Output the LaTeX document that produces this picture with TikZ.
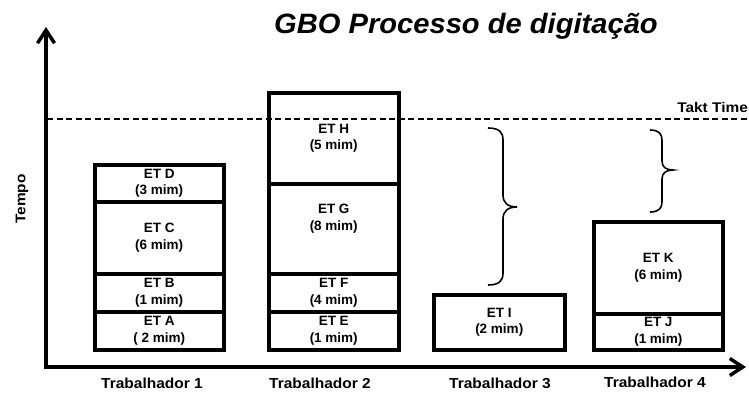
\documentclass[tikz,border=0pt]{standalone}
\usepackage{fontspec}
\setmainfont{Liberation Sans}
\newfontfamily\widefont{Liberation Sans}[FakeStretch=1.1]
\newfontfamily\workerfont{Liberation Sans}[FakeStretch=1.07]
\newfontfamily\titlefont{Liberation Sans}[FakeStretch=1.04]
\usetikzlibrary{arrows.meta}

\begin{document}
\begin{tikzpicture}[x=1pt,y=-1pt,
  etbox/.style={draw, line width=3.5pt, rectangle, anchor=north west, inner sep=0pt,
    align=center, font=\bfseries\fontsize{13.5}{16.5}\selectfont},
  etlabel/.style={align=center, inner sep=0pt, font=\bfseries\fontsize{13.5}{16.5}\selectfont},
  worker/.style={font=\workerfont\bfseries\fontsize{14.5}{16}\selectfont, inner sep=0pt},
  axis/.style={line width=3.5pt, line join=miter},
  taktline/.style={line width=2.3pt, dash pattern=on 6pt off 3.5pt},
  bracket/.style={line width=1.6pt},
]
\useasboundingbox (0,0) rectangle (749,392);

% title
\node[font=\titlefont\bfseries\itshape\fontsize{28}{32}\selectfont, inner sep=0pt, anchor=base] (title) at (466,33.5) {GBO Processo de digitação};

% axes
\coordinate (origin) at (46,367);
\coordinate (ytip) at (46,27);
\coordinate (xtip) at (746,367);
\draw[axis, {Straight Barb[length=13pt,width=17pt]}-{Straight Barb[length=13pt,width=17pt]}] (ytip) -- (origin) -- (xtip);
\node[rotate=90, font=\widefont\bfseries\fontsize{14}{16}\selectfont, inner sep=0pt] (tempo) at (22,199) {Tempo};

% takt time
\coordinate (taktL) at (47,119);
\coordinate (taktR) at (749,119);
\draw[taktline] (taktL) -- (taktR);
\node[anchor=base east, font=\widefont\bfseries\fontsize{14}{16}\selectfont, inner sep=0pt] (takt) at (748,112.5) {Takt Time};

% worker 1
\node[etbox, minimum width=129pt, minimum height=38pt] (etA) at (93,310) {ET A\\( 2 mim)};
\node[etbox, minimum width=129pt, minimum height=38pt] (etB) at (93,272) {ET B\\(1 mim)};
\node[etbox, minimum width=129pt, minimum height=72pt] (etC) at (93,200) {ET C\\(6 mim)};
\node[etbox, minimum width=129pt, minimum height=37pt] (etD) at (93,163) {ET D\\(3 mim)};

% worker 2
\node[etbox, minimum width=130pt, minimum height=38pt] (etE) at (267,310) {ET E\\(1 mim)};
\node[etbox, minimum width=130pt, minimum height=38pt] (etF) at (267,272) {ET F\\(4 mim)};
\node[etbox, minimum width=130pt, minimum height=90pt] (etG) at (267,182) {};
\node[etlabel] (etGlabel) at ([yshift=10pt]etG.center) {ET G\\(8 mim)};
\node[etbox, minimum width=130pt, minimum height=91pt] (etH) at (267,91) {ET H\\(5 mim)};

% worker 3
\node[etbox, minimum width=131pt, minimum height=55pt] (etI) at (432,293) {ET I\\(2 mim)};

% worker 4
\node[etbox, minimum width=129pt, minimum height=36pt] (etJ) at (592,312) {ET J\\(1 mim)};
\node[etbox, minimum width=129pt, minimum height=92pt] (etK) at (592,220) {ET K\\(6 mim)};

% braces showing the idle time up to the takt line
\draw[bracket] (488,128) .. controls (499,128) and (503,132) .. (503,140) -- (503,195)
  .. controls (503,203) and (508,207) .. (517,207)
  .. controls (508,207) and (503,211) .. (503,219) -- (503,273)
  .. controls (503,281) and (499,285) .. (488,285);
\draw[bracket] (650,130) .. controls (659,130) and (662,134) .. (662,140) -- (662,161)
  .. controls (662,167) and (666,170) .. (673,170)
  .. controls (666,170) and (662,173) .. (662,179) -- (662,202)
  .. controls (662,208) and (659,212) .. (650,212);

% worker labels
\node[worker] (w1) at (152,383) {Trabalhador 1};
\node[worker] (w2) at (320,383) {Trabalhador 2};
\node[worker] (w3) at (500,383) {Trabalhador 3};
\node[worker] (w4) at (655,382) {Trabalhador 4};
\end{tikzpicture}
\end{document}
